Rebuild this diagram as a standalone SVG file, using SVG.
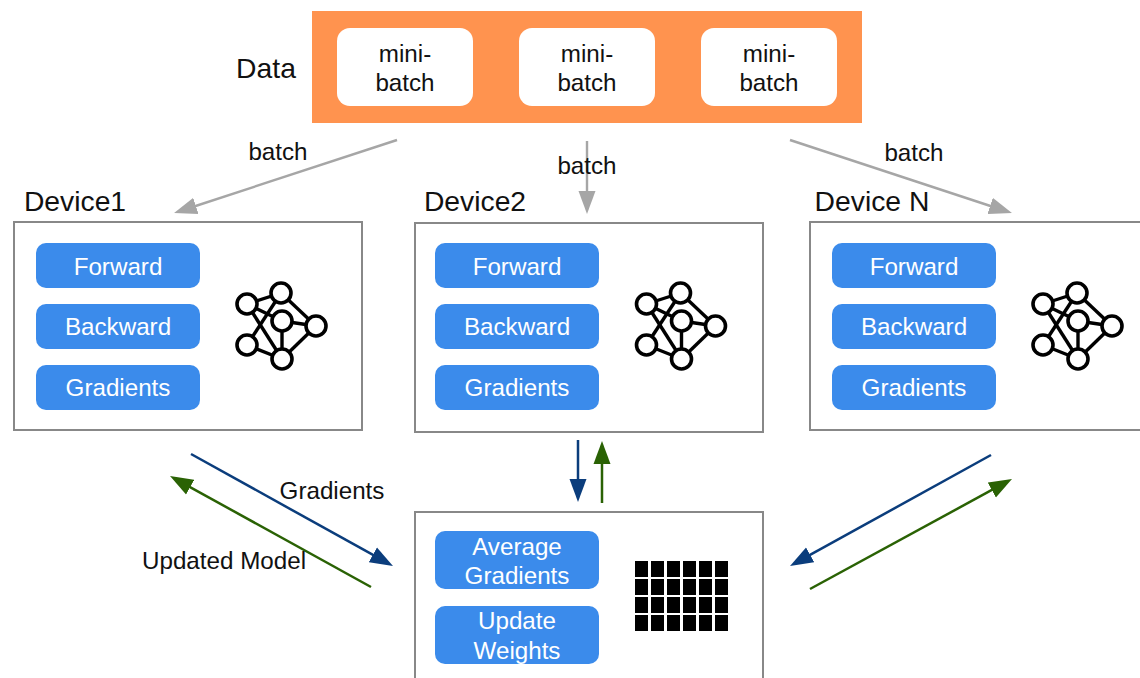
<svg xmlns="http://www.w3.org/2000/svg" xmlns:xlink="http://www.w3.org/1999/xlink" width="1140" height="678" viewBox="0 0 1140 678">
<style>
text{font-family:"Liberation Sans",Arial,sans-serif;font-size:24.2px;fill:#111;text-anchor:middle}
.big{font-size:28.3px}
.box{fill:#fff;stroke:#888;stroke-width:2}
.btn{fill:#3b8beb}
.btn-t{fill:#fff}
.mb{fill:#fff}
.gray{stroke:#a6a6a6;stroke-width:2.4;fill:none;marker-end:url(#ag)}
.blue{stroke:#0b3d7c;stroke-width:2.5;fill:none;marker-end:url(#ab)}
.green{stroke:#2a6204;stroke-width:2.5;fill:none;marker-end:url(#ar)}
.net line{stroke:#000;stroke-width:3.4}
.net circle{fill:#fff;stroke:#000;stroke-width:3.6}
.cell{fill:#000;width:13px;height:16px}
</style>
<defs>
<marker id="ag" markerUnits="userSpaceOnUse" markerWidth="24" markerHeight="18" refX="10" refY="9" orient="auto"><path d="M0,0.5 L23,9 L0,17.5 Z" fill="#a6a6a6"/></marker>
<marker id="ab" markerUnits="userSpaceOnUse" markerWidth="24" markerHeight="18" refX="10" refY="9" orient="auto"><path d="M0,0.5 L23,9 L0,17.5 Z" fill="#0b3d7c"/></marker>
<marker id="ar" markerUnits="userSpaceOnUse" markerWidth="24" markerHeight="18" refX="10" refY="9" orient="auto"><path d="M0,0.5 L23,9 L0,17.5 Z" fill="#2a6204"/></marker>
<g id="netshape" class="net">
<line x1="247" y1="304" x2="281" y2="293"/><line x1="247" y1="304" x2="282" y2="321"/><line x1="247" y1="304" x2="282" y2="359"/>
<line x1="247" y1="345" x2="281" y2="293"/><line x1="247" y1="345" x2="282" y2="359"/><line x1="281" y1="293" x2="316" y2="326"/>
<line x1="282" y1="321" x2="316" y2="326"/><line x1="282" y1="321" x2="282" y2="359"/><line x1="282" y1="359" x2="316" y2="326"/>
<circle cx="281" cy="293" r="10"/><circle cx="247" cy="304" r="10"/><circle cx="282" cy="321" r="10"/>
<circle cx="316" cy="326" r="10"/><circle cx="247" cy="345" r="10"/><circle cx="282" cy="359" r="10"/>
</g>
</defs>
<rect width="1140" height="678" fill="#fff"/>
<g id="data">
<text class="big" x="266" y="78">Data</text>
<rect x="312" y="11" width="550" height="112" fill="#ff934f"/>
<rect class="mb" x="337" y="28" width="136" height="78" rx="13"/>
<rect class="mb" x="519" y="28" width="136" height="78" rx="13"/>
<rect class="mb" x="701" y="28" width="136" height="78" rx="13"/>
<text x="405" y="62">mini-</text><text x="405" y="91">batch</text>
<text x="587" y="62">mini-</text><text x="587" y="91">batch</text>
<text x="769" y="62">mini-</text><text x="769" y="91">batch</text>
</g>
<g id="device1">
<text class="big" x="75" y="211">Device1</text>
<rect class="box" x="14" y="222" width="348" height="208"/>
<rect class="btn" x="36" y="243" width="164" height="45" rx="10"/><rect class="btn" x="36" y="304" width="164" height="45" rx="10"/><rect class="btn" x="36" y="365" width="164" height="45" rx="10"/>
<text class="btn-t" x="118" y="275">Forward</text><text class="btn-t" x="118" y="335">Backward</text><text class="btn-t" x="118" y="396">Gradients</text>
<use xlink:href="#netshape" href="#netshape"/>
</g>
<g id="device2">
<text class="big" x="475" y="211">Device2</text>
<rect class="box" x="415" y="223" width="348" height="209"/>
<rect class="btn" x="435" y="243" width="164" height="45" rx="10"/><rect class="btn" x="435" y="304" width="164" height="45" rx="10"/><rect class="btn" x="435" y="365" width="164" height="45" rx="10"/>
<text class="btn-t" x="517" y="275">Forward</text><text class="btn-t" x="517" y="335">Backward</text><text class="btn-t" x="517" y="396">Gradients</text>
<use xlink:href="#netshape" href="#netshape" x="399.5"/>
</g>
<g id="deviceN">
<text class="big" x="872" y="211">Device N</text>
<rect class="box" x="810" y="222" width="340" height="208"/>
<rect class="btn" x="832" y="243" width="164" height="45" rx="10"/><rect class="btn" x="832" y="304" width="164" height="45" rx="10"/><rect class="btn" x="832" y="365" width="164" height="45" rx="10"/>
<text class="btn-t" x="914" y="275">Forward</text><text class="btn-t" x="914" y="335">Backward</text><text class="btn-t" x="914" y="396">Gradients</text>
<use xlink:href="#netshape" href="#netshape" x="796"/>
</g>
<g id="server">
<rect class="box" x="415" y="512" width="348" height="180"/>
<rect class="btn" x="435" y="531" width="164" height="58" rx="10"/><rect class="btn" x="435" y="606" width="164" height="58" rx="10"/>
<text class="btn-t" x="517" y="555">Average</text><text class="btn-t" x="517" y="584">Gradients</text>
<text class="btn-t" x="517" y="629">Update</text><text class="btn-t" x="517" y="659">Weights</text>
<path fill="#000" d="M635,561h13v16h-13zM651,561h13v16h-13zM667,561h13v16h-13zM683,561h13v16h-13zM699,561h13v16h-13zM715,561h13v16h-13zM635,579h13v16h-13zM651,579h13v16h-13zM667,579h13v16h-13zM683,579h13v16h-13zM699,579h13v16h-13zM715,579h13v16h-13zM635,597h13v16h-13zM651,597h13v16h-13zM667,597h13v16h-13zM683,597h13v16h-13zM699,597h13v16h-13zM715,597h13v16h-13zM635,615h13v16h-13zM651,615h13v16h-13zM667,615h13v16h-13zM683,615h13v16h-13zM699,615h13v16h-13zM715,615h13v16h-13z"/>
</g>
<g id="connectors">
<line class="gray" x1="397" y1="140" x2="186.4" y2="209"/>
<line class="gray" x1="587" y1="141" x2="587" y2="201"/>
<line class="gray" x1="790" y1="140" x2="999.6" y2="209"/>
<line class="blue" x1="191" y1="454" x2="381.6" y2="559.7"/>
<line class="green" x1="371" y1="587" x2="181.4" y2="482.3"/>
<line class="blue" x1="991" y1="455" x2="801.4" y2="559.7"/>
<line class="green" x1="810" y1="589" x2="1000.6" y2="485.2"/>
<line class="blue" x1="578" y1="440" x2="578" y2="489"/>
<line class="green" x1="602" y1="503" x2="602" y2="454"/>
</g>
<g id="labels">
<text x="278" y="160">batch</text>
<text x="587" y="174">batch</text>
<text x="914" y="161">batch</text>
<text x="332" y="499">Gradients</text>
<text x="224" y="569">Updated Model</text>
</g>
</svg>
